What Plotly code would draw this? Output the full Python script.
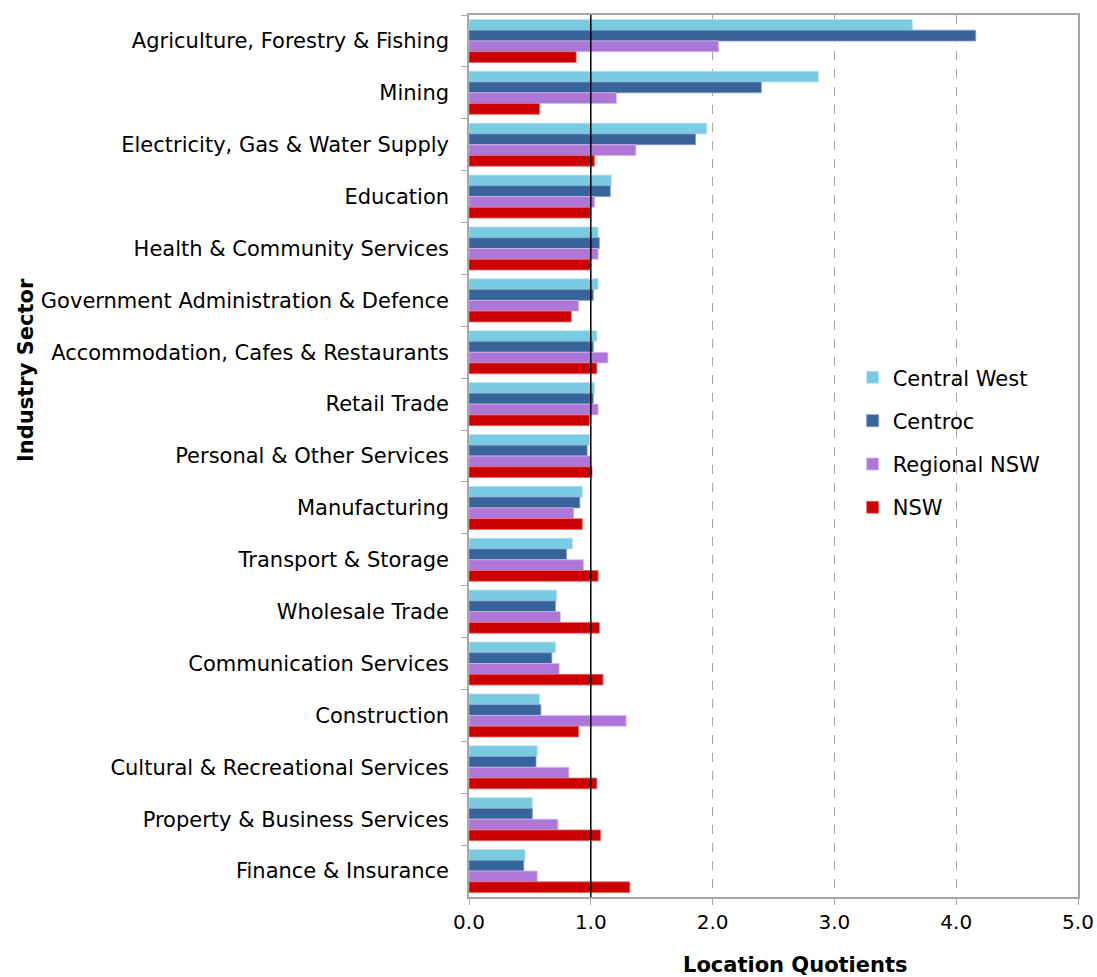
import plotly.graph_objects as go

# Industry sectors, listed top to bottom
sectors = [
    "Agriculture, Forestry & Fishing",
    "Mining",
    "Electricity, Gas & Water Supply",
    "Education",
    "Health & Community Services",
    "Government Administration & Defence",
    "Accommodation, Cafes & Restaurants",
    "Retail Trade",
    "Personal & Other Services",
    "Manufacturing",
    "Transport & Storage",
    "Wholesale Trade",
    "Communication Services",
    "Construction",
    "Cultural & Recreational Services",
    "Property & Business Services",
    "Finance & Insurance",
]

central_west = [3.64, 2.87, 1.95, 1.17, 1.06, 1.06, 1.05, 1.03, 0.99, 0.93,
                0.85, 0.72, 0.71, 0.58, 0.56, 0.52, 0.46]
centroc = [4.16, 2.40, 1.86, 1.16, 1.07, 1.02, 1.02, 1.02, 0.97, 0.91,
           0.80, 0.71, 0.68, 0.59, 0.55, 0.52, 0.45]
regional_nsw = [2.05, 1.21, 1.37, 1.03, 1.06, 0.90, 1.14, 1.06, 1.00, 0.86,
                0.94, 0.75, 0.74, 1.29, 0.82, 0.73, 0.56]
nsw = [0.88, 0.58, 1.03, 1.00, 1.00, 0.84, 1.05, 0.99, 1.01, 0.93,
       1.06, 1.07, 1.10, 0.90, 1.05, 1.08, 1.32]

x_ticks = [0, 1, 2, 3, 4, 5]
x_tick_labels = ["0.0", "1.0", "2.0", "3.0", "4.0", "5.0"]

series = [
    ("Central West", central_west, "#78CBE0", "#B8E4F0"),
    ("Centroc", centroc, "#38649C", "#7A9CC8"),
    ("Regional NSW", regional_nsw, "#AE76D6", "#D6B8EC"),
    ("NSW", nsw, "#CC0000", "#E66A6A"),
]

FONT = "DejaVu Sans"
W, H = 1097, 977

fig = go.Figure()
for name, vals, color, edge in series:
    fig.add_trace(go.Bar(
        y=sectors, x=vals, name=name, orientation="h", legendgroup=name,
        marker=dict(color=color, line=dict(color=edge, width=0.8)),
    ))

# Reference line at a location quotient of 1
fig.add_shape(type="line", xref="x", yref="paper", x0=1, x1=1, y0=0, y1=1,
              line=dict(color="black", width=1.5), layer="above")

# Axis titles, placed in page coordinates
fig.add_annotation(
    text="<b>Location Quotients</b>", xref="paper", yref="paper",
    x=(795 - 469) / (W - 469 - 19), y=-(951 - (H - 80)) / (H - 15 - 80),
    xanchor="center", yanchor="top", showarrow=False,
    font=dict(family=FONT, size=21, color="black"),
)
fig.add_annotation(
    text="<b>Industry Sector</b>", xref="paper", yref="paper", textangle=-90,
    x=-(469 - 12) / (W - 469 - 19), y=(H - 80 - 370) / (H - 15 - 80),
    xanchor="left", yanchor="middle", showarrow=False,
    font=dict(family=FONT, size=21, color="black"),
)

fig.update_layout(
    width=W, height=H,
    margin=dict(l=469, r=19, t=15, b=80),
    barmode="group", bargap=0.17, bargroupgap=0,
    plot_bgcolor="white", paper_bgcolor="white",
    font=dict(family=FONT, size=19, color="black"),
    legend=dict(
        x=0.63, y=0.612, xanchor="left", yanchor="top",
        traceorder="grouped", font=dict(family=FONT, size=21),
        itemwidth=30, tracegroupgap=13, bgcolor="rgba(0,0,0,0)",
    ),
    showlegend=True,
)

fig.update_xaxes(
    range=[0, 5], tickvals=x_ticks, ticktext=x_tick_labels,
    automargin=False,
    showgrid=True, gridcolor="#A6A6A6", griddash="dash", gridwidth=1,
    showline=True, linecolor="#A6A6A6", linewidth=1.5, mirror=True,
    ticks="outside", ticklen=6, tickcolor="#A6A6A6",
    ticklabelstandoff=0,
    tickfont=dict(family=FONT, size=20),
    zeroline=False,
)
fig.update_yaxes(
    type="category", categoryorder="array", categoryarray=sectors,
    autorange="reversed", automargin=False,
    showgrid=False, showline=True, linecolor="#A6A6A6", linewidth=1.5,
    mirror=True,
    ticks="outside", ticklen=6, tickcolor="#A6A6A6", tickson="boundaries",
    ticklabelstandoff=14,
    tickfont=dict(family=FONT, size=21),
)

fig.write_html("out.html")
